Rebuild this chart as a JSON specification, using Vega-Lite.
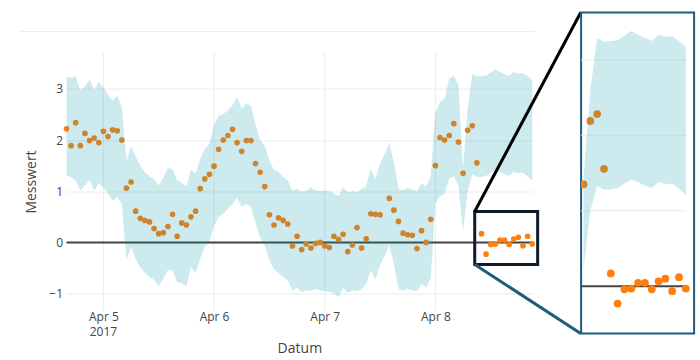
{
  "$schema": "https://vega.github.io/schema/vega-lite/v6.json",
  "padding": {"left": 18.5, "top": 10.5, "right": 5, "bottom": 0},
  "bounds": "flush",
  "spacing": 48.6,
  "resolve": {"scale": {"x": "independent", "y": "independent"}},
  "config": {"font": "Open Sans", "view": {"stroke": null}},
  "datasets": {
    "series": [
      {"t": "2017-04-04T16:00", "value": 2.22, "lower": 1.31, "upper": 3.24},
      {"t": "2017-04-04T17:00", "value": 1.89, "lower": 1.27, "upper": 3.22},
      {"t": "2017-04-04T18:00", "value": 2.34, "lower": 1.21, "upper": 3.24},
      {"t": "2017-04-04T19:00", "value": 1.89, "lower": 1.01, "upper": 2.97},
      {"t": "2017-04-04T20:00", "value": 2.13, "lower": 1.11, "upper": 3.05},
      {"t": "2017-04-04T21:00", "value": 1.99, "lower": 1.22, "upper": 3.18},
      {"t": "2017-04-04T22:00", "value": 2.04, "lower": 1.01, "upper": 2.98},
      {"t": "2017-04-04T23:00", "value": 1.95, "lower": 1.16, "upper": 3.14},
      {"t": "2017-04-05T00:00", "value": 2.17, "lower": 1.07, "upper": 3.02},
      {"t": "2017-04-05T01:00", "value": 2.07, "lower": 0.95, "upper": 2.89},
      {"t": "2017-04-05T02:00", "value": 2.20, "lower": 0.82, "upper": 2.77},
      {"t": "2017-04-05T03:00", "value": 2.18, "lower": 0.88, "upper": 2.87},
      {"t": "2017-04-05T04:00", "value": 2.00, "lower": 0.75, "upper": 2.63},
      {"t": "2017-04-05T05:00", "value": 1.06, "lower": -0.35, "upper": 1.60},
      {"t": "2017-04-05T06:00", "value": 1.18, "lower": -0.09, "upper": 1.88},
      {"t": "2017-04-05T07:00", "value": 0.61, "lower": -0.32, "upper": 1.68},
      {"t": "2017-04-05T08:00", "value": 0.47, "lower": -0.50, "upper": 1.50},
      {"t": "2017-04-05T09:00", "value": 0.43, "lower": -0.59, "upper": 1.37},
      {"t": "2017-04-05T10:00", "value": 0.40, "lower": -0.68, "upper": 1.29},
      {"t": "2017-04-05T11:00", "value": 0.27, "lower": -0.73, "upper": 1.24},
      {"t": "2017-04-05T12:00", "value": 0.17, "lower": -0.86, "upper": 1.11},
      {"t": "2017-04-05T13:00", "value": 0.19, "lower": -0.71, "upper": 1.27},
      {"t": "2017-04-05T14:00", "value": 0.31, "lower": -0.54, "upper": 1.46},
      {"t": "2017-04-05T15:00", "value": 0.55, "lower": -0.55, "upper": 1.43},
      {"t": "2017-04-05T16:00", "value": 0.12, "lower": -0.78, "upper": 1.21},
      {"t": "2017-04-05T17:00", "value": 0.38, "lower": -0.80, "upper": 1.16},
      {"t": "2017-04-05T18:00", "value": 0.34, "lower": -0.85, "upper": 1.09},
      {"t": "2017-04-05T19:00", "value": 0.50, "lower": -0.48, "upper": 1.42},
      {"t": "2017-04-05T20:00", "value": 0.61, "lower": -0.61, "upper": 1.35},
      {"t": "2017-04-05T21:00", "value": 1.05, "lower": -0.32, "upper": 1.63},
      {"t": "2017-04-05T22:00", "value": 1.24, "lower": -0.09, "upper": 1.83},
      {"t": "2017-04-05T23:00", "value": 1.33, "lower": 0.00, "upper": 1.93},
      {"t": "2017-04-06T00:00", "value": 1.49, "lower": 0.33, "upper": 2.30},
      {"t": "2017-04-06T01:00", "value": 1.82, "lower": 0.49, "upper": 2.48},
      {"t": "2017-04-06T02:00", "value": 2.00, "lower": 0.56, "upper": 2.51},
      {"t": "2017-04-06T03:00", "value": 2.09, "lower": 0.66, "upper": 2.58},
      {"t": "2017-04-06T04:00", "value": 2.21, "lower": 0.75, "upper": 2.68},
      {"t": "2017-04-06T05:00", "value": 1.95, "lower": 0.87, "upper": 2.84},
      {"t": "2017-04-06T06:00", "value": 1.78, "lower": 0.69, "upper": 2.61},
      {"t": "2017-04-06T07:00", "value": 1.99, "lower": 0.75, "upper": 2.71},
      {"t": "2017-04-06T08:00", "value": 1.99, "lower": 0.69, "upper": 2.68},
      {"t": "2017-04-06T09:00", "value": 1.54, "lower": 0.38, "upper": 2.30},
      {"t": "2017-04-06T10:00", "value": 1.37, "lower": 0.08, "upper": 2.00},
      {"t": "2017-04-06T11:00", "value": 1.09, "lower": -0.06, "upper": 1.89},
      {"t": "2017-04-06T12:00", "value": 0.54, "lower": -0.35, "upper": 1.60},
      {"t": "2017-04-06T13:00", "value": 0.34, "lower": -0.52, "upper": 1.42},
      {"t": "2017-04-06T14:00", "value": 0.48, "lower": -0.60, "upper": 1.38},
      {"t": "2017-04-06T15:00", "value": 0.43, "lower": -0.68, "upper": 1.28},
      {"t": "2017-04-06T16:00", "value": 0.36, "lower": -0.74, "upper": 1.21},
      {"t": "2017-04-06T17:00", "value": -0.07, "lower": -0.94, "upper": 1.01},
      {"t": "2017-04-06T18:00", "value": 0.12, "lower": -0.88, "upper": 1.05},
      {"t": "2017-04-06T19:00", "value": -0.14, "lower": -0.97, "upper": 0.99},
      {"t": "2017-04-06T20:00", "value": -0.03, "lower": -0.94, "upper": 1.01},
      {"t": "2017-04-06T21:00", "value": -0.11, "lower": -0.94, "upper": 1.07},
      {"t": "2017-04-06T22:00", "value": -0.02, "lower": -0.91, "upper": 1.02},
      {"t": "2017-04-06T23:00", "value": 0.00, "lower": -0.94, "upper": 1.00},
      {"t": "2017-04-07T00:00", "value": -0.07, "lower": -0.95, "upper": 1.02},
      {"t": "2017-04-07T01:00", "value": -0.10, "lower": -0.97, "upper": 1.00},
      {"t": "2017-04-07T02:00", "value": 0.12, "lower": -0.99, "upper": 0.96},
      {"t": "2017-04-07T03:00", "value": 0.06, "lower": -1.07, "upper": 0.90},
      {"t": "2017-04-07T04:00", "value": 0.16, "lower": -0.88, "upper": 1.08},
      {"t": "2017-04-07T05:00", "value": -0.18, "lower": -0.99, "upper": 0.98},
      {"t": "2017-04-07T06:00", "value": -0.05, "lower": -0.94, "upper": 1.00},
      {"t": "2017-04-07T07:00", "value": 0.29, "lower": -0.95, "upper": 0.98},
      {"t": "2017-04-07T08:00", "value": -0.11, "lower": -0.91, "upper": 1.05},
      {"t": "2017-04-07T09:00", "value": 0.07, "lower": -0.81, "upper": 1.09},
      {"t": "2017-04-07T10:00", "value": 0.56, "lower": -0.55, "upper": 1.44},
      {"t": "2017-04-07T11:00", "value": 0.55, "lower": -0.73, "upper": 1.24},
      {"t": "2017-04-07T12:00", "value": 0.54, "lower": -0.45, "upper": 1.54},
      {"t": "2017-04-07T13:00", "value": null, "lower": -0.26, "upper": 1.73},
      {"t": "2017-04-07T14:00", "value": 0.86, "lower": -0.06, "upper": 1.94},
      {"t": "2017-04-07T15:00", "value": 0.63, "lower": -0.42, "upper": 1.57},
      {"t": "2017-04-07T16:00", "value": 0.41, "lower": -0.91, "upper": 1.05},
      {"t": "2017-04-07T17:00", "value": 0.18, "lower": -0.94, "upper": 1.02},
      {"t": "2017-04-07T18:00", "value": 0.15, "lower": -0.91, "upper": 1.07},
      {"t": "2017-04-07T19:00", "value": 0.14, "lower": -0.94, "upper": 1.03},
      {"t": "2017-04-07T20:00", "value": -0.12, "lower": -0.95, "upper": 1.00},
      {"t": "2017-04-07T21:00", "value": 0.23, "lower": -0.81, "upper": 1.15},
      {"t": "2017-04-07T22:00", "value": 0.00, "lower": -0.88, "upper": 1.09},
      {"t": "2017-04-07T23:00", "value": 0.45, "lower": -0.70, "upper": 1.31},
      {"t": "2017-04-08T00:00", "value": 1.50, "lower": 0.75, "upper": 2.54},
      {"t": "2017-04-08T01:00", "value": 2.05, "lower": 0.90, "upper": 2.74},
      {"t": "2017-04-08T02:00", "value": 2.00, "lower": 0.95, "upper": 2.81},
      {"t": "2017-04-08T03:00", "value": 2.09, "lower": 1.25, "upper": 3.20},
      {"t": "2017-04-08T04:00", "value": 2.32, "lower": 1.30, "upper": 3.26},
      {"t": "2017-04-08T05:00", "value": 1.96, "lower": 1.10, "upper": 3.07},
      {"t": "2017-04-08T06:00", "value": 1.35, "lower": 0.22, "upper": 1.45},
      {"t": "2017-04-08T07:00", "value": 2.19, "lower": 1.00, "upper": 2.60},
      {"t": "2017-04-08T08:00", "value": 2.28, "lower": 1.33, "upper": 3.29},
      {"t": "2017-04-08T09:00", "value": 1.555, "lower": 1.28, "upper": 3.24},
      {"t": "2017-04-08T10:00", "value": 0.17, "lower": 1.28, "upper": 3.25},
      {"t": "2017-04-08T11:00", "value": -0.23, "lower": 1.30, "upper": 3.26},
      {"t": "2017-04-08T12:00", "value": -0.04, "lower": 1.36, "upper": 3.32},
      {"t": "2017-04-08T13:00", "value": -0.03, "lower": 1.41, "upper": 3.38},
      {"t": "2017-04-08T14:00", "value": 0.045, "lower": 1.38, "upper": 3.33},
      {"t": "2017-04-08T15:00", "value": 0.045, "lower": 1.33, "upper": 3.29},
      {"t": "2017-04-08T16:00", "value": -0.04, "lower": 1.30, "upper": 3.25},
      {"t": "2017-04-08T17:00", "value": 0.066, "lower": 1.38, "upper": 3.33},
      {"t": "2017-04-08T18:00", "value": 0.10, "lower": 1.35, "upper": 3.30},
      {"t": "2017-04-08T19:00", "value": -0.066, "lower": 1.36, "upper": 3.31},
      {"t": "2017-04-08T20:00", "value": 0.12, "lower": 1.29, "upper": 3.25},
      {"t": "2017-04-08T21:00", "value": -0.03, "lower": 1.21, "upper": 3.17}
    ]
  },
  "hconcat": [
    {
      "width": 465.7,
      "height": 298,
      "data": {"name": "series"},
      "layer": [
        {
          "data": {"values": [{"d": "2017-04-05T00:00"}, {"d": "2017-04-06T00:00"}, {"d": "2017-04-07T00:00"}, {"d": "2017-04-08T00:00"}]},
          "mark": {"type": "rule", "color": "#ebebeb", "strokeWidth": 1},
          "encoding": {
            "x": {"field": "d", "type": "temporal", "title": "Datum",
                  "scale": {"domain": [{"year": 2017, "month": 4, "date": 4, "hours": 16}, {"year": 2017, "month": 4, "date": 8, "hours": 21}]},
                  "axis": {
                    "title": "Datum",
                    "values": [{"year": 2017, "month": 4, "date": 5}, {"year": 2017, "month": 4, "date": 6}, {"year": 2017, "month": 4, "date": 7}, {"year": 2017, "month": 4, "date": 8}],
                    "format": "%b %-d",
                    "grid": false, "ticks": false, "domain": false,
                    "labelPadding": 1, "labelFontSize": 12, "labelColor": "#444444",
                    "labelFlush": false, "labelOverlap": false,
                    "titleFontSize": 14, "titleColor": "#444444", "titleFontWeight": "normal", "titlePadding": 19
                  }},
            "y": {"datum": 3.711, "type": "quantitative", "title": "Messwert",
                  "scale": {"domain": [-1.331, 4.493], "nice": false, "zero": false},
                  "axis": {
                    "title": "Messwert",
                    "values": [-1, 0, 1, 2, 3],
                    "grid": true, "gridColor": "#ebebeb", "gridWidth": 1,
                    "ticks": false, "domain": false,
                    "labelPadding": 4, "labelFontSize": 12, "labelColor": "#444444",
                    "titleFontSize": 14, "titleColor": "#444444", "titleFontWeight": "normal",
                    "titleX": -34.7, "titleY": 169, "titleBaseline": "middle", "titleAlign": "center"
                  }},
            "y2": {"datum": -1.331}
          }
        },
        {
          "data": {"values": [{}]},
          "mark": {"type": "text", "text": "2017", "fontSize": 12, "color": "#444444", "baseline": "middle", "align": "center", "clip": false},
          "encoding": {
            "x": {"datum": {"year": 2017, "month": 4, "date": 5}, "type": "temporal"},
            "y": {"datum": -1.755, "type": "quantitative"}
          }
        },
        {
          "data": {"values": [{}]},
          "mark": {"type": "rule", "color": "#ebebeb", "strokeWidth": 1, "clip": false},
          "encoding": {
            "x": {"datum": {"year": 2017, "month": 4, "date": 4, "hours": 5, "minutes": 51}, "type": "temporal"},
            "x2": {"datum": {"year": 2017, "month": 4, "date": 8, "hours": 21, "minutes": 44}},
            "y": {"datum": 4.12, "type": "quantitative"}
          }
        },
        {
          "data": {"values": [{}]},
          "mark": {"type": "rule", "color": "#444444", "strokeWidth": 2},
          "encoding": {
            "y": {"datum": 0, "type": "quantitative"}
          }
        },
        {
          "mark": {"type": "circle", "size": 32, "opacity": 1, "color": "#ff7f0e"},
          "encoding": {
            "x": {"field": "t", "type": "temporal", "title": "Datum"},
            "y": {"field": "value", "type": "quantitative", "title": "Messwert"}
          }
        },
        {
          "mark": {"type": "area", "color": "rgb(5,155,170)", "opacity": 0.2},
          "encoding": {
            "x": {"field": "t", "type": "temporal", "title": "Datum"},
            "y": {"field": "upper", "type": "quantitative", "title": "Messwert"},
            "y2": {"field": "lower"}
          }
        },
        {
          "data": {"values": [{}]},
          "mark": {"type": "rect", "filled": false, "stroke": "#0d1b2a", "strokeWidth": 3, "clip": false},
          "encoding": {
            "x": {"datum": {"year": 2017, "month": 4, "date": 8, "hours": 8, "minutes": 32}, "type": "temporal"},
            "x2": {"datum": {"year": 2017, "month": 4, "date": 8, "hours": 22, "minutes": 11}},
            "y": {"datum": 0.604, "type": "quantitative"},
            "y2": {"datum": -0.432}
          }
        },
        {
          "data": {"values": [{}]},
          "mark": {"type": "rule", "color": "#000000", "strokeWidth": 3, "clip": false},
          "encoding": {
            "x": {"datum": {"year": 2017, "month": 4, "date": 8, "hours": 8, "minutes": 32}, "type": "temporal"},
            "x2": {"datum": {"year": 2017, "month": 4, "date": 9, "hours": 7, "minutes": 31}},
            "y": {"datum": 0.604, "type": "quantitative"},
            "y2": {"datum": 4.493}
          }
        },
        {
          "data": {"values": [{}]},
          "mark": {"type": "rule", "color": "#1f5b7e", "strokeWidth": 3, "clip": false},
          "encoding": {
            "x": {"datum": {"year": 2017, "month": 4, "date": 8, "hours": 8, "minutes": 32}, "type": "temporal"},
            "x2": {"datum": {"year": 2017, "month": 4, "date": 9, "hours": 7, "minutes": 31}},
            "y": {"datum": -0.432, "type": "quantitative"},
            "y2": {"datum": -1.78}
          }
        }
      ]
    },
    {
      "width": 113,
      "height": 321,
      "view": {"stroke": "#1f5b7e", "strokeWidth": 2},
      "data": {"name": "series"},
      "layer": [
        {
          "data": {"values": [{"g": 1}, {"g": 2}, {"g": 3}]},
          "mark": {"type": "rule", "color": "#ebebeb", "strokeWidth": 1},
          "encoding": {
            "x": {"datum": {"year": 2017, "month": 4, "date": 8, "hours": 5, "minutes": 38, "seconds": 42}, "type": "temporal", "axis": null,
                  "scale": {"domain": [{"year": 2017, "month": 4, "date": 8, "hours": 5, "minutes": 38, "seconds": 42}, {"year": 2017, "month": 4, "date": 8, "hours": 22, "minutes": 12, "seconds": 36}]}},
            "x2": {"datum": {"year": 2017, "month": 4, "date": 8, "hours": 21}},
            "y": {"field": "g", "type": "quantitative", "axis": null,
                  "scale": {"domain": [-0.626, 3.626], "nice": false, "zero": false}}
          }
        },
        {
          "data": {"values": [{}]},
          "mark": {"type": "rule", "color": "#444444", "strokeWidth": 2},
          "encoding": {
            "x": {"datum": {"year": 2017, "month": 4, "date": 8, "hours": 5, "minutes": 38, "seconds": 42}, "type": "temporal", "axis": null},
            "x2": {"datum": {"year": 2017, "month": 4, "date": 8, "hours": 21}},
            "y": {"datum": 0, "type": "quantitative", "axis": null}
          }
        },
        {
          "transform": [{"filter": {"field": "t", "gte": {"year": 2017, "month": 4, "date": 8, "hours": 6}}}],
          "mark": {"type": "circle", "size": 60, "opacity": 1, "color": "#ff7f0e", "clip": true},
          "encoding": {
            "x": {"field": "t", "type": "temporal", "axis": null},
            "y": {"field": "value", "type": "quantitative", "axis": null}
          }
        },
        {
          "transform": [{"filter": {"field": "t", "gte": {"year": 2017, "month": 4, "date": 8, "hours": 6}}}],
          "mark": {"type": "area", "color": "rgb(5,155,170)", "opacity": 0.2, "clip": true},
          "encoding": {
            "x": {"field": "t", "type": "temporal", "axis": null},
            "y": {"field": "upper", "type": "quantitative", "axis": null},
            "y2": {"field": "lower"}
          }
        }
      ]
    }
  ]
}
